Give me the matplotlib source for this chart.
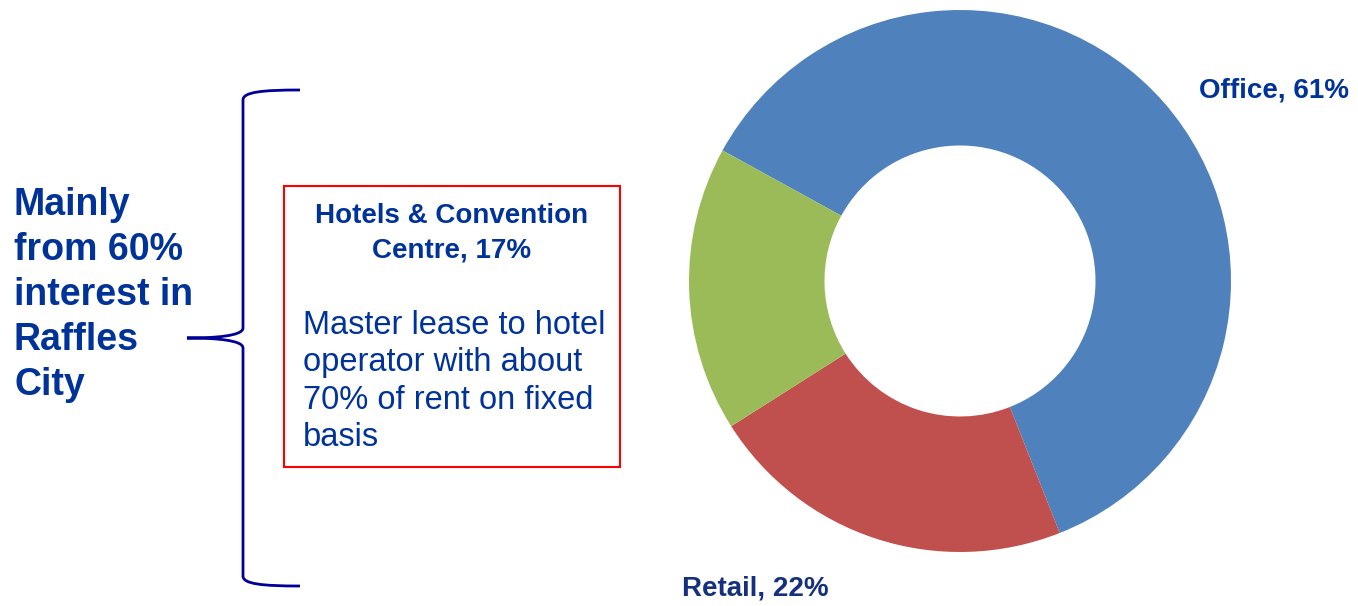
import matplotlib.pyplot as plt
from matplotlib.path import Path
from matplotlib.patches import PathPatch, Rectangle

plt.rcParams['font.family'] = ['Liberation Sans', 'DejaVu Sans']

segments = ["Office", "Retail", "Hotels & Convention Centre"]
shares = [61, 22, 17]
colors = ["#4F81BD", "#C0504D", "#9BBB59"]

text_blue = "#003399"

W, H = 1358, 606
fig = plt.figure(figsize=(W / 100, H / 100), dpi=100)

# donut chart
ax = fig.add_axes([689 / W, (H - 552) / H, 542 / W, 542 / H])
ax.pie(shares, colors=colors, startangle=151.2, counterclock=False,
       radius=1, wedgeprops=dict(width=0.5, linewidth=0))
ax.set_xlim(-1, 1)
ax.set_ylim(-1, 1)
ax.set_aspect("equal")
ax.axis("off")

# overlay in pixel coordinates for annotations
ov = fig.add_axes([0, 0, 1, 1])
ov.set_xlim(0, W)
ov.set_ylim(H, 0)
ov.axis("off")
ov.patch.set_alpha(0)

ov.text(1199, 97, f"{segments[0]}, {shares[0]}%", fontsize=20, fontweight="bold",
        color=text_blue, ha="left", va="baseline")
ov.text(682, 595, f"{segments[1]}, {shares[1]}%", fontsize=20, fontweight="bold",
        color="#14307e", ha="left", va="baseline")

# left note
left_lines = ["Mainly", "from 60%", "interest in", "Raffles", "City"]
for i, line in enumerate(left_lines):
    ov.text(14, 215 + i * 45, line, fontsize=27, fontweight="bold",
            color=text_blue, ha="left", va="baseline")

# curly brace
verts = [
    (300, 90), (262, 90), (243, 92), (243, 100),
    (243, 328),
    (243, 336), (215, 338), (187, 338),
    (215, 338), (243, 340), (243, 348),
    (243, 576),
    (243, 584), (262, 586), (300, 586),
]
codes = [Path.MOVETO, Path.CURVE4, Path.CURVE4, Path.CURVE4,
         Path.LINETO,
         Path.CURVE4, Path.CURVE4, Path.CURVE4,
         Path.CURVE4, Path.CURVE4, Path.CURVE4,
         Path.LINETO,
         Path.CURVE4, Path.CURVE4, Path.CURVE4]
ov.add_patch(PathPatch(Path(verts, codes), facecolor="none",
                       edgecolor="#000099", linewidth=2))

# hotel box
ov.add_patch(Rectangle((284, 186), 336, 281, facecolor="white",
                       edgecolor="#FF0000", linewidth=1.5))
title = ["Hotels & Convention", f"Centre, {shares[2]}%"]
for i, line in enumerate(title):
    ov.text(452, 223 + i * 34, line, fontsize=20, fontweight="bold",
            color=text_blue, ha="center", va="baseline")
body = ["Master lease to hotel", "operator with about",
        "70% of rent on fixed", "basis"]
for i, line in enumerate(body):
    ov.text(303, 334 + i * 37.5, line, fontsize=23.5, color=text_blue,
            ha="left", va="baseline")

fig.savefig("out.png", dpi=100)
